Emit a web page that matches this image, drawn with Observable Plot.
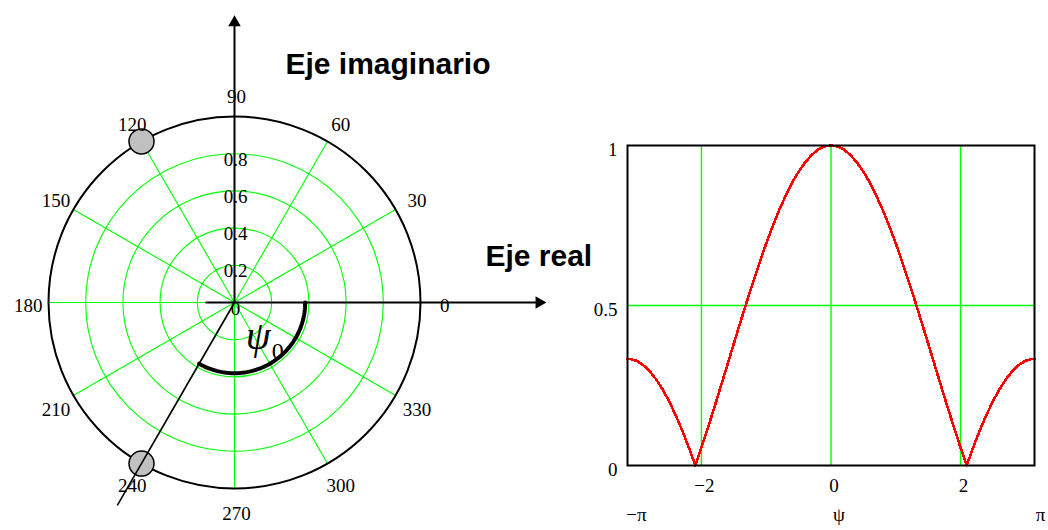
<!DOCTYPE html>
<html>
<head>
<meta charset="utf-8">
<script src="https://cdn.jsdelivr.net/npm/d3@7"></script>
<script src="https://cdn.jsdelivr.net/npm/@observablehq/plot@0.6"></script>
<style>
  html, body { margin: 0; padding: 0; background: #ffffff; }
  #stage { position: relative; width: 1048px; height: 530px; overflow: hidden; }
  #stage svg { position: absolute; top: 0; }
</style>
</head>
<body>
<div id="stage"></div>
<script>
// ---- Phasor diagram (left) ----
const angleTicks = [0, 30, 60, 90, 120, 150, 180, 210, 240, 270, 300, 330];
const ringValues = [0.2, 0.4, 0.6, 0.8];
const radialLabels = [0, 0.2, 0.4, 0.6, 0.8];
const elementPhases = [120, 240];   // phasors of the 2nd and 3rd elements (deg)
const psi0 = 240;                   // progressive phase shown by the arc (deg)

// ---- Array factor |AF(ψ)| (right) ----
const psi = [
  -3.1416, -3.1, -3.0, -2.9, -2.8, -2.7, -2.6, -2.5, -2.4, -2.3, -2.2, -2.094,
  -2.0, -1.9, -1.8, -1.7, -1.6, -1.5, -1.4, -1.3, -1.2, -1.1, -1.0, -0.9, -0.8,
  -0.7, -0.6, -0.5, -0.4, -0.3, -0.2, -0.1, 0,
  0.1, 0.2, 0.3, 0.4, 0.5, 0.6, 0.7, 0.8, 0.9, 1.0, 1.1, 1.2, 1.3, 1.4, 1.5,
  1.6, 1.7, 1.8, 1.9, 2.0, 2.094, 2.2, 2.3, 2.4, 2.5, 2.6, 2.7, 2.8, 2.9, 3.0,
  3.1, 3.1416
];
const af = [
  0.333, 0.333, 0.327, 0.314, 0.295, 0.269, 0.238, 0.201, 0.158, 0.111, 0.059, 0.000,
  0.056, 0.118, 0.182, 0.248, 0.314, 0.381, 0.447, 0.512, 0.575, 0.636, 0.694, 0.748, 0.798,
  0.843, 0.884, 0.918, 0.947, 0.970, 0.987, 0.997, 1.000,
  0.997, 0.987, 0.970, 0.947, 0.918, 0.884, 0.843, 0.798, 0.748, 0.694, 0.636, 0.575, 0.512, 0.447, 0.381,
  0.314, 0.248, 0.182, 0.118, 0.056, 0.000, 0.059, 0.111, 0.158, 0.201, 0.238, 0.269, 0.295, 0.314, 0.327,
  0.333, 0.333
];
const xTicks = [-2, 0, 2];
const yTicks = [0, 0.5, 1];
const xLimitLabels = ["−π", "ψ", "π"];

const GREEN = "#00ff00";
const SERIF = "'Liberation Serif', 'Times New Roman', serif";
const SANS = "'Liberation Sans', Arial, sans-serif";

const rad = (a) => a * Math.PI / 180;
const px = (r, a) => r * Math.cos(rad(a));
const py = (r, a) => r * Math.sin(rad(a));

// arc for ψ0, swept clockwise from 0° round to psi0
const arcPts = d3.range(0, 360 - psi0, 2).map(t => -t).concat([psi0 - 360]);

const stage = document.getElementById("stage");

// ---------- right panel ----------
const right = Plot.plot({
  width: 488,
  height: 530,
  marginLeft: 67,
  marginRight: 14,
  marginTop: 145,
  marginBottom: 65,
  x: {domain: [-Math.PI, Math.PI]},
  y: {domain: [0, 1]},
  style: {background: "transparent", fontFamily: SERIF, fontSize: "19px", color: "black", maxWidth: "none"},
  marks: [
    Plot.ruleX(xTicks, {stroke: GREEN, strokeWidth: 1.4}),
    Plot.ruleY([0.5], {stroke: GREEN, strokeWidth: 1.4}),
    Plot.line(psi.map((p, i) => ({p, v: af[i]})), {
      x: "p", y: "v", stroke: "#ff0000", strokeWidth: 2.6, shapeRendering: "crispEdges"
    }),
    Plot.frame({stroke: "black", strokeWidth: 2}),
    Plot.axisX(xTicks, {tickSize: 0, tickPadding: 13, dx: 3, label: null, fontSize: 19}),
    Plot.axisY(yTicks, {tickSize: 0, tickPadding: 10, dy: 4, label: null, fontSize: 19,
      tickFormat: d => String(d)}),
    Plot.text([xLimitLabels[0]], {x: -Math.PI, frameAnchor: "bottom", dy: 55, dx: 9, fontSize: 19}),
    Plot.text([xLimitLabels[1]], {x: 0, frameAnchor: "bottom", dy: 55, dx: 8, fontSize: 19}),
    Plot.text([xLimitLabels[2]], {x: Math.PI, frameAnchor: "bottom", dy: 55, dx: 6, fontSize: 19})
  ]
});
right.style.left = "560px";
stage.appendChild(right);

// ---------- left panel ----------
const left = Plot.plot({
  width: 620,
  height: 530,
  x: {domain: [-1, 1], range: [48, 420], axis: null},
  y: {domain: [-1, 1], range: [488, 116], axis: null},
  r: {type: "linear", domain: [0, 1], range: [0, 186]},
  style: {background: "transparent", fontFamily: SERIF, fontSize: "19px", color: "black", maxWidth: "none"},
  marks: [
    // grid: spokes every 30° and rings
    Plot.link(angleTicks, {x1: 0, y1: 0, x2: a => px(1, a), y2: a => py(1, a), stroke: GREEN, strokeWidth: 1.1}),
    Plot.dot(ringValues, {x: 0, y: 0, r: d => d, fill: "none", stroke: GREEN, strokeWidth: 1.1}),
    // unit circle
    Plot.dot([1], {x: 0, y: 0, r: d => d, fill: "none", stroke: "black", strokeWidth: 2}),
    // real and imaginary axes
    Plot.link([0], {x1: -0.156, y1: 0, x2: 1.65, y2: 0, stroke: "black", strokeWidth: 2}),
    Plot.link([0], {x1: 0, y1: 0, x2: 0, y2: 1.52, stroke: "black", strokeWidth: 2}),
    Plot.dot([0], {x: 1.638, y: 0, symbol: "triangle2", r: 6, rotate: 90, fill: "black", stroke: "none"}),
    Plot.dot([0], {x: 0, y: 1.505, symbol: "triangle2", r: 6, fill: "black", stroke: "none"}),
    // ψ0 arc
    Plot.line(arcPts, {x: a => px(0.38, a), y: a => py(0.38, a), stroke: "black", strokeWidth: 4}),
    // element phasors on the unit circle
    Plot.dot(elementPhases, {x: a => px(1, a), y: a => py(1, a), r: 12.5, fill: "#c0c0c0", stroke: "black", strokeWidth: 1.5}),
    // phasor direction of ψ0, drawn across the element marker
    Plot.link([psi0], {x1: 0, y1: 0, x2: a => px(1.26, a), y2: a => py(1.26, a), stroke: "black", strokeWidth: 1.6}),
    // angle and radius labels
    Plot.text(angleTicks, {x: a => px(1.12, a), y: a => py(1.12, a), text: a => String(a), dx: 2, dy: 3, fontSize: 19}),
    Plot.text(radialLabels, {x: 0, y: d => d, text: d => String(d), dx: 1, dy: 6, fontSize: 19}),
    // ψ0 symbol
    Plot.text(["ψ"], {x: 0.127, y: -0.18, fontSize: 40, fontStyle: "italic"}),
    Plot.text(["0"], {x: 0.232, y: -0.26, fontSize: 24}),
    // axis titles
    Plot.text(["Eje imaginario"], {x: 0.274, y: 1.231, textAnchor: "start", lineAnchor: "bottom",
      fontFamily: SANS, fontWeight: "bold", fontSize: 30}),
    Plot.text(["Eje real"], {x: 1.349, y: 0.194, textAnchor: "start", lineAnchor: "bottom",
      fontFamily: SANS, fontWeight: "bold", fontSize: 30})
  ]
});
left.style.left = "0px";
stage.appendChild(left);
</script>
</body>
</html>
